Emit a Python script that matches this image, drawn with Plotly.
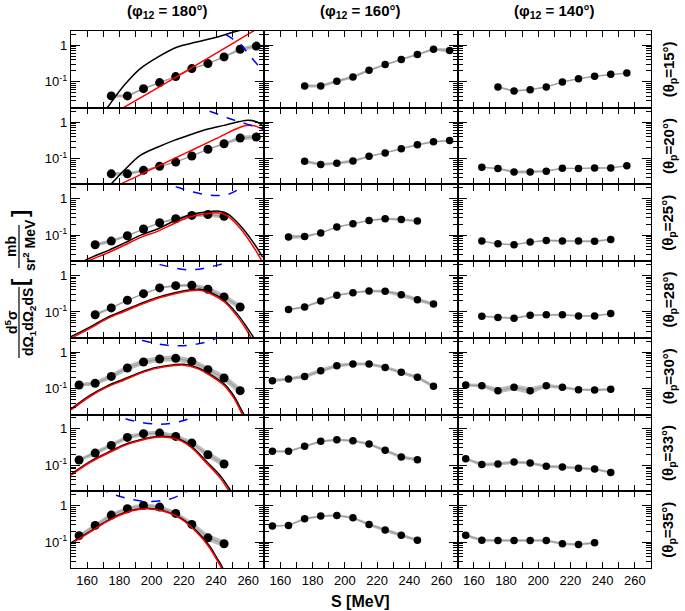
import plotly.graph_objects as go

W, H = 685, 611

PHI = [180, 160, 140]
THETA = [15, 20, 25, 28, 30, 33, 35]

# ---------------- experimental data (S [MeV], cross section, relative band half-width)
S_180_15 = [175, 185, 195, 205, 215, 225, 235, 245, 255, 265]
Y_180_15 = [0.041, 0.041, 0.065, 0.095, 0.139, 0.23, 0.315, 0.48, 0.78, 0.95]
B_180_15 = [0.10, 0.10, 0.06, 0.05, 0.05, 0.05, 0.05, 0.06, 0.12, 0.15]
S_180_20 = [175, 185, 195, 205, 215, 225, 235, 245, 255, 265]
Y_180_20 = [0.038, 0.038, 0.0475, 0.061, 0.080, 0.117, 0.179, 0.254, 0.365, 0.39]
B_180_20 = [0.12, 0.12, 0.06, 0.05, 0.05, 0.05, 0.05, 0.06, 0.15, 0.15]
S_180_25 = [165, 175, 185, 195, 205, 215, 225, 235, 245]
Y_180_25 = [0.055, 0.069, 0.097, 0.148, 0.22, 0.283, 0.35, 0.37, 0.33]
B_180_25 = [0.12, 0.12, 0.06, 0.05, 0.05, 0.08, 0.12, 0.15, 0.15]
S_180_28 = [165, 175, 185, 195, 205, 215, 225, 235, 245, 255]
Y_180_28 = [0.084, 0.129, 0.209, 0.317, 0.455, 0.526, 0.54, 0.42, 0.258, 0.137]
B_180_28 = [0.12, 0.08, 0.05, 0.05, 0.06, 0.08, 0.12, 0.18, 0.2, 0.2]
S_180_30 = [155, 165, 175, 185, 195, 205, 215, 225, 235, 245, 255]
Y_180_30 = [0.126, 0.14, 0.217, 0.369, 0.539, 0.652, 0.676, 0.56, 0.332, 0.196, 0.088]
B_180_30 = [0.12, 0.15, 0.18, 0.2, 0.2, 0.2, 0.2, 0.2, 0.22, 0.25, 0.25]
S_180_33 = [155, 165, 175, 185, 195, 205, 215, 225, 235, 245]
Y_180_33 = [0.14, 0.217, 0.353, 0.585, 0.738, 0.767, 0.623, 0.408, 0.196, 0.109]
B_180_33 = [0.10, 0.15, 0.15, 0.15, 0.15, 0.15, 0.15, 0.18, 0.22, 0.22]
S_180_35 = [155, 165, 175, 185, 195, 205, 215, 225, 235, 245]
Y_180_35 = [0.15, 0.287, 0.55, 0.817, 1.01, 0.91, 0.61, 0.305, 0.131, 0.09]
B_180_35 = [0.10, 0.15, 0.15, 0.15, 0.15, 0.15, 0.15, 0.2, 0.25, 0.25]

S_160_15 = [175, 185, 195, 205, 215, 225, 235, 245, 255, 265]
Y_160_15 = [0.077, 0.077, 0.103, 0.136, 0.207, 0.296, 0.406, 0.556, 0.78, 0.72]
B_160_15 = [0.10, 0.10, 0.10, 0.10, 0.08, 0.06, 0.06, 0.06, 0.08, 0.15]
S_160_20 = [175, 185, 195, 205, 215, 225, 235, 245, 255, 265]
Y_160_20 = [0.084, 0.069, 0.074, 0.085, 0.115, 0.142, 0.185, 0.239, 0.288, 0.31]
B_160_20 = [0.10, 0.10, 0.10, 0.10, 0.06, 0.06, 0.06, 0.06, 0.06, 0.06]
S_160_25 = [165, 175, 185, 195, 205, 215, 225, 235, 245]
Y_160_25 = [0.089, 0.093, 0.115, 0.168, 0.207, 0.254, 0.283, 0.271, 0.245]
B_160_25 = [0.15, 0.10, 0.05, 0.05, 0.05, 0.05, 0.08, 0.08, 0.08]
S_160_28 = [165, 175, 185, 195, 205, 215, 225, 235, 245, 255]
Y_160_28 = [0.116, 0.137, 0.2, 0.287, 0.338, 0.376, 0.369, 0.298, 0.217, 0.164]
B_160_28 = [0.08, 0.08, 0.08, 0.06, 0.06, 0.08, 0.10, 0.12, 0.12, 0.12]
S_160_30 = [155, 165, 175, 185, 195, 205, 215, 225, 235, 245, 255]
Y_160_30 = [0.166, 0.184, 0.217, 0.311, 0.427, 0.475, 0.475, 0.383, 0.28, 0.204, 0.116]
B_160_30 = [0.10, 0.10, 0.12, 0.15, 0.12, 0.10, 0.10, 0.10, 0.10, 0.12, 0.12]
S_160_33 = [155, 165, 175, 185, 195, 205, 215, 225, 235, 245]
Y_160_33 = [0.242, 0.242, 0.332, 0.455, 0.506, 0.475, 0.383, 0.258, 0.169, 0.143]
B_160_33 = [0.08, 0.08, 0.08, 0.08, 0.08, 0.08, 0.10, 0.12, 0.12, 0.10]
S_160_35 = [155, 165, 175, 185, 195, 205, 215, 225, 235, 245]
Y_160_35 = [0.274, 0.287, 0.435, 0.515, 0.539, 0.463, 0.305, 0.213, 0.155, 0.113]
B_160_35 = [0.06, 0.06, 0.08, 0.08, 0.08, 0.08, 0.10, 0.12, 0.12, 0.10]

S_140_15 = [175, 185, 195, 205, 215, 225, 235, 245, 255]
Y_140_15 = [0.072, 0.056, 0.061, 0.072, 0.099, 0.122, 0.142, 0.16, 0.174]
B_140_15 = [0.06, 0.06, 0.06, 0.05, 0.05, 0.05, 0.05, 0.05, 0.05]
S_140_20 = [165, 175, 185, 195, 205, 215, 225, 235, 245, 255]
Y_140_20 = [0.058, 0.053, 0.043, 0.043, 0.045, 0.054, 0.053, 0.055, 0.055, 0.0635]
B_140_20 = [0.05, 0.06, 0.10, 0.10, 0.06, 0.05, 0.05, 0.05, 0.05, 0.05]
S_140_25 = [165, 175, 185, 195, 205, 215, 225, 235, 245]
Y_140_25 = [0.069, 0.058, 0.055, 0.065, 0.072, 0.069, 0.069, 0.068, 0.077]
B_140_25 = [0.06, 0.05, 0.05, 0.05, 0.08, 0.08, 0.08, 0.08, 0.05]
S_140_28 = [165, 175, 185, 195, 205, 215, 225, 235, 245]
Y_140_28 = [0.076, 0.07, 0.067, 0.081, 0.084, 0.084, 0.078, 0.078, 0.09]
B_140_28 = [0.06, 0.06, 0.06, 0.06, 0.06, 0.06, 0.06, 0.06, 0.06]
S_140_30 = [155, 165, 175, 185, 195, 205, 215, 225, 235, 245]
Y_140_30 = [0.126, 0.121, 0.088, 0.109, 0.088, 0.121, 0.109, 0.094, 0.092, 0.096]
B_140_30 = [0.10, 0.12, 0.20, 0.20, 0.25, 0.12, 0.10, 0.08, 0.08, 0.08]
S_140_33 = [155, 165, 175, 185, 195, 205, 215, 225, 235, 245]
Y_140_33 = [0.153, 0.105, 0.109, 0.123, 0.116, 0.094, 0.09, 0.084, 0.079, 0.064]
B_140_33 = [0.08, 0.12, 0.12, 0.10, 0.10, 0.10, 0.10, 0.08, 0.08, 0.08]
S_140_35 = [155, 165, 175, 185, 195, 205, 215, 225, 235]
Y_140_35 = [0.155, 0.113, 0.111, 0.111, 0.111, 0.111, 0.09, 0.086, 0.096]
B_140_35 = [0.10, 0.10, 0.08, 0.08, 0.08, 0.08, 0.08, 0.08, 0.08]

# ---------------- theory curves (phi12 = 180 only)
BLACK_S_15 = [170, 172.7, 183, 193, 204, 216, 228, 241, 251, 258]
BLACK_Y_15 = [0.014, 0.020, 0.080, 0.23, 0.48, 0.90, 1.23, 1.69, 2.31, 2.8]
RED_S_15 = [178, 200, 220, 240, 262, 270]
RED_Y_15 = [0.015, 0.055, 0.18, 0.60, 2.3, 3.7]
BLUE_S_15 = [236, 241.7, 246.9, 251, 255, 259.3, 263.4, 267.5, 270]
BLUE_Y_15 = [3.3, 2.46, 1.88, 1.43, 1.11, 0.65, 0.39, 0.245, 0.2]

BLACK_S_20 = [170, 173, 183, 193, 204, 214, 224, 234.5, 245, 255, 260, 265.5, 270]
BLACK_Y_20 = [0.013, 0.0166, 0.0475, 0.122, 0.207, 0.315, 0.45, 0.63, 0.81, 1.04, 1.11, 1.0, 0.72]
RED_S_20 = [174, 177, 190, 200, 210, 224, 240, 255, 260, 265, 270]
RED_Y_20 = [0.014, 0.0166, 0.031, 0.051, 0.082, 0.161, 0.35, 0.72, 0.81, 0.76, 0.59]
BLUE_S_20 = [226, 232, 240.4, 248.7, 255, 263.2, 270]
BLUE_Y_20 = [3.2, 2.31, 1.69, 1.23, 1.0, 0.78, 0.64]

BLACK_S_25 = [150, 162, 173, 183, 193, 204, 214, 224, 234, 241, 247, 255, 263, 269]
BLACK_Y_25 = [0.013, 0.024, 0.038, 0.061, 0.099, 0.151, 0.245, 0.365, 0.432, 0.46, 0.39, 0.185, 0.065, 0.025]
RED_S_25 = [150, 162, 173, 183, 193, 204, 214, 224, 234, 241, 247, 255, 263, 269]
RED_Y_25 = [0.012, 0.021, 0.033, 0.053, 0.086, 0.13, 0.21, 0.32, 0.39, 0.41, 0.34, 0.155, 0.05, 0.018]
BLUE_S_25 = [205, 210.4, 217.7, 225.9, 234.2, 240.4, 246.6, 252.9, 258, 262]
BLUE_Y_25 = [3.5, 2.58, 1.96, 1.52, 1.29, 1.23, 1.29, 1.69, 2.58, 3.5]

BLACK_S_28 = [150, 162, 172, 183, 193, 203, 214, 224, 230, 236, 245, 253, 259, 263, 267]
BLACK_Y_28 = [0.021, 0.039, 0.069, 0.111, 0.169, 0.247, 0.332, 0.408, 0.419, 0.353, 0.209, 0.09, 0.039, 0.021, 0.011]
RED_S_28 = [150, 162, 172, 183, 193, 203, 214, 224, 230, 236, 245, 253, 259, 263, 266]
RED_Y_28 = [0.019, 0.036, 0.064, 0.103, 0.157, 0.23, 0.31, 0.38, 0.39, 0.325, 0.19, 0.078, 0.032, 0.016, 0.010]
BLUE_S_28 = [195, 200.1, 207.3, 215.6, 223.9, 232.1, 240.4, 246.6, 251]
BLUE_Y_28 = [3.2, 2.32, 1.89, 1.56, 1.43, 1.56, 1.89, 2.32, 3.2]

BLACK_S_30 = [150, 162, 172, 183, 193, 203, 214, 220, 228, 236, 245, 251, 256, 260]
BLACK_Y_30 = [0.028, 0.067, 0.116, 0.184, 0.28, 0.383, 0.455, 0.463, 0.383, 0.253, 0.135, 0.064, 0.025, 0.012]
RED_S_30 = [150, 162, 172, 183, 193, 203, 214, 220, 228, 236, 245, 251, 256, 259]
RED_Y_30 = [0.026, 0.062, 0.108, 0.172, 0.262, 0.36, 0.43, 0.44, 0.36, 0.235, 0.122, 0.056, 0.021, 0.011]
BLUE_S_30 = [184, 189.7, 197, 207.3, 217.7, 228, 234, 240.4, 245]
BLUE_Y_30 = [3.3, 2.43, 1.96, 1.59, 1.49, 1.66, 1.9, 2.43, 3.3]

BLACK_S_33 = [150, 162, 172, 183, 193, 203, 209, 218, 226, 234, 243, 248, 252]
BLACK_Y_33 = [0.057, 0.129, 0.217, 0.369, 0.506, 0.623, 0.623, 0.506, 0.298, 0.129, 0.05, 0.024, 0.013]
RED_S_33 = [150, 162, 172, 183, 193, 203, 209, 218, 226, 234, 243, 248, 252]
RED_Y_33 = [0.054, 0.122, 0.205, 0.35, 0.48, 0.59, 0.59, 0.475, 0.275, 0.116, 0.043, 0.02, 0.011]
BLUE_S_33 = [174, 179.4, 188.7, 205.2, 217.7, 227, 232]
BLUE_Y_33 = [3.2, 2.28, 1.66, 1.34, 1.59, 2.28, 3.2]

BLACK_S_35 = [150, 162, 172, 183, 193, 199, 207, 218, 228, 236, 241, 243, 246]
BLACK_Y_35 = [0.095, 0.2, 0.376, 0.635, 0.817, 0.838, 0.738, 0.463, 0.2, 0.078, 0.034, 0.0245, 0.013]
RED_S_35 = [150, 162, 172, 183, 193, 199, 207, 218, 228, 236, 241, 243, 246]
RED_Y_35 = [0.09, 0.19, 0.36, 0.61, 0.79, 0.81, 0.71, 0.44, 0.185, 0.07, 0.03, 0.021, 0.011]
BLUE_S_35 = [168, 173.2, 184.6, 198, 211.5, 220.8, 226]
BLUE_Y_35 = [3.2, 2.32, 1.59, 1.29, 1.52, 2.32, 3.2]

# ---------------- axes tick labels
X_TICK_VALS = [150, 160, 170, 180, 190, 200, 210, 220, 230, 240, 250, 260, 270]
X_TICK_TEXT = ["", "160", "", "180", "", "200", "", "220", "", "240", "", "260", ""]
Y_TICK_VALS = [0.1, 1]
Y_TICK_TEXT = ["10<sup>-1</sup>", "1"]
Y_MINOR_VALS = [0.02, 0.03, 0.04, 0.05, 0.06, 0.07, 0.08, 0.09,
                0.2, 0.3, 0.4, 0.5, 0.6, 0.7, 0.8, 0.9, 2]

g = globals()
EXP = {(r, c): (g[f"S_{p}_{t}"], g[f"Y_{p}_{t}"], g[f"B_{p}_{t}"])
       for r, t in enumerate(THETA) for c, p in enumerate(PHI)}
THEO = {r: [(g[f"BLACK_S_{t}"], g[f"BLACK_Y_{t}"], "black", "solid"),
            (g[f"RED_S_{t}"], g[f"RED_Y_{t}"], "#ff0000", "solid"),
            (g[f"BLUE_S_{t}"], g[f"BLUE_Y_{t}"], "#0000ff", "dash")]
        for r, t in enumerate(THETA)}

# ---------------- layout geometry (pixels)
X0, X1 = 71, 651
Y0, Y1 = 31, 568
CW = (X1 - X0) / 3
RH = (Y1 - Y0) / 7
YR = [0.392 - RH / 36.5, 0.392]

fig = go.Figure()
FONT = "Liberation Sans, Arial, sans-serif"

for r in range(7):
    for c in range(3):
        k = r * 3 + c + 1
        xa = "x" if k == 1 else f"x{k}"
        ya = "y" if k == 1 else f"y{k}"
        S, Y, B = EXP[(r, c)]
        lo = [y / (1 + b) for y, b in zip(Y, B)]
        hi = [y * (1 + b) for y, b in zip(Y, B)]
        fig.add_trace(go.Scatter(x=S + S[::-1], y=hi + lo[::-1], fill="toself",
                                 fillcolor="#bcbcbc", line=dict(width=0),
                                 mode="lines", hoverinfo="skip", showlegend=False,
                                 xaxis=xa, yaxis=ya))
        fig.add_trace(go.Scatter(x=S, y=Y, mode="lines+markers",
                                 line=dict(color="#9a9a9a", width=1),
                                 marker=dict(color="black", size=9 if c == 0 else 7.5),
                                 showlegend=False, xaxis=xa, yaxis=ya))
        if c == 0:
            for ts, ty, col, dash in THEO[r]:
                fig.add_trace(go.Scatter(x=ts, y=ty, mode="lines", line_shape="spline",
                                         line=dict(color=col, width=1.5, dash=dash),
                                         showlegend=False, xaxis=xa, yaxis=ya))
        xd = [(X0 + c * CW) / W, (X0 + (c + 1) * CW) / W]
        yd = [1 - (Y0 + (r + 1) * RH) / H, 1 - (Y0 + r * RH) / H]
        fig.layout[f"xaxis{k if k > 1 else ''}"] = dict(
            domain=xd, anchor=ya, range=[150, 270], tickmode="array",
            tickvals=X_TICK_VALS, ticktext=X_TICK_TEXT, showticklabels=(r == 6),
            ticks="inside", ticklen=6, tickwidth=1, tickcolor="black",
            showline=True, linecolor="black", linewidth=1.2, mirror="allticks",
            showgrid=False, zeroline=False,
            tickfont=dict(family=FONT, size=13, color="black"))
        fig.layout[f"yaxis{k if k > 1 else ''}"] = dict(
            domain=yd, anchor=xa, type="log", range=YR, tickmode="array",
            tickvals=Y_TICK_VALS, ticktext=Y_TICK_TEXT, showticklabels=(c == 0),
            ticks="inside", ticklen=9, tickwidth=1, tickcolor="black",
            minor=dict(tickmode="array", tickvals=Y_MINOR_VALS, ticks="inside",
                       ticklen=5, tickcolor="black", showgrid=False),
            showline=True, linecolor="black", linewidth=1.2, mirror="allticks",
            showgrid=False, zeroline=False,
            tickfont=dict(family=FONT, size=13, color="black"))

ann = []
def A(x, y, text, size=15, angle=0):
    ann.append(dict(x=x / W, y=1 - y / H, xref="paper", yref="paper", text=text,
                    showarrow=False, textangle=angle, xanchor="center", yanchor="middle",
                    font=dict(family=FONT, size=size, color="black")))

for c, p in enumerate(PHI):
    A(X0 + (c + 0.5) * CW, 12, f"<b>(φ<sub>12</sub> = {p}°)</b>", 15)
for r, t in enumerate(THETA):
    A(669, Y0 + (r + 0.5) * RH, f"<b>(θ<sub>p</sub>={t}°)</b>", 15, angle=-90)
A(361, 601, "<b>S [MeV]</b>", 16)
# y-axis title as stacked fractions
A(11, 322, "<b>d<sup>5</sup>σ</b>", 14, angle=-90)
A(29, 322, "<b>dΩ<sub>1</sub>dΩ<sub>2</sub>dS</b>", 14, angle=-90)
A(11, 247, "<b>mb</b>", 14, angle=-90)
A(29, 245, "<b>sr<sup>2</sup> MeV</b>", 14, angle=-90)
A(19, 282, "<b>[</b>", 22, angle=-90)
A(19, 214, "<b>]</b>", 22, angle=-90)

shapes = [
    dict(type="line", xref="paper", yref="paper", x0=19 / W, x1=19 / W,
         y0=1 - 287 / H, y1=1 - 358 / H, line=dict(color="black", width=1.2)),
    dict(type="line", xref="paper", yref="paper", x0=19 / W, x1=19 / W,
         y0=1 - 225 / H, y1=1 - 268 / H, line=dict(color="black", width=1.2)),
]

fig.update_layout(width=W, height=H, margin=dict(l=0, r=0, t=0, b=0),
                  paper_bgcolor="white", plot_bgcolor="white",
                  annotations=ann, shapes=shapes, showlegend=False)
fig.write_html("out.html", config={"displayModeBar": False},
               post_script="document.body.style.margin='0';")
